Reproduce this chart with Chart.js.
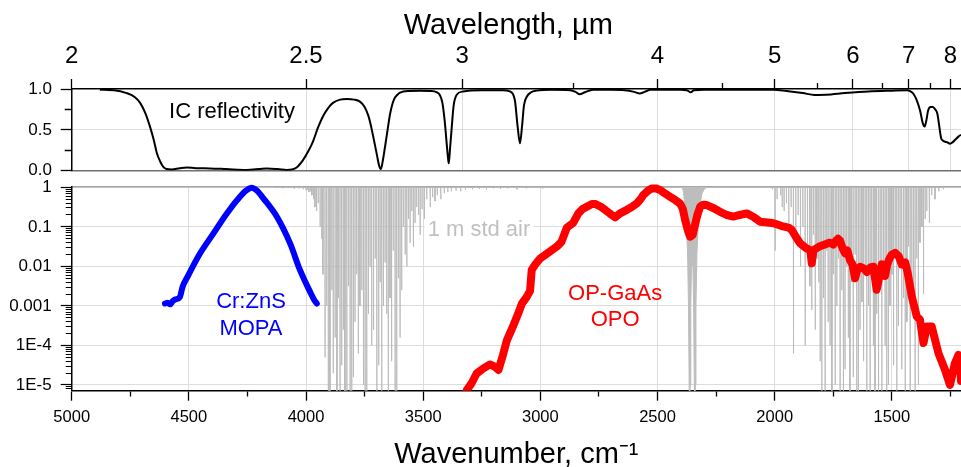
<!DOCTYPE html>
<html>
<head>
<meta charset="utf-8">
<script src="https://cdn.jsdelivr.net/npm/chart.js@4.4.1/dist/chart.umd.min.js"></script>
<style>
html,body{margin:0;padding:0;background:#fff;width:961px;height:467px;overflow:hidden;position:relative}
canvas{position:absolute;left:0}
#c1{top:0;width:961px;height:180px}
#c2{top:174px;width:961px;height:293px}
</style>
</head>
<body>
<canvas id="c1" width="961" height="180"></canvas>
<canvas id="c2" width="961" height="293"></canvas>
<script>
// ---------------- data ----------------
// IC reflectivity: [wavenumber cm-1, reflectivity]
const icReflectivity = [[4880,0.99],[4820,0.985],[4765,0.95],[4730,0.9],[4708,0.83],[4685,0.7],[4666,0.54],[4650,0.38],[4637,0.22],[4622,0.11],
[4610,0.05],[4595,0.02],[4573,0.015],[4540,0.03],[4509,0.04],[4470,0.03],[4410,0.028],[4340,0.02],[4253,0.01],[4200,0.02],
[4168,0.028],[4120,0.02],[4082,0.01],[4060,0.015],[4040,0.04],[4013,0.13],[3990,0.24],[3970,0.36],[3950,0.52],[3927,0.67],
[3905,0.77],[3885,0.83],[3855,0.87],[3826,0.877],[3795,0.87],[3770,0.845],[3750,0.78],[3735,0.68],[3727,0.6],[3712,0.4],
[3698,0.2],[3688,0.06],[3681,0.02],[3675,0.08],[3663,0.29],[3652,0.5],[3641,0.7],[3625,0.87],[3610,0.93],[3599,0.955],
[3560,0.975],[3514,0.978],[3470,0.975],[3442,0.96],[3428,0.92],[3418,0.83],[3408,0.6],[3400,0.34],[3394,0.15],[3391,0.09],
[3386,0.25],[3378,0.54],[3370,0.8],[3357,0.93],[3330,0.97],[3250,0.985],[3160,0.985],[3130,0.97],[3109,0.865],[3097,0.54],
[3087,0.335],[3078,0.55],[3070,0.8],[3058,0.905],[3040,0.96],[3016,0.98],[2950,0.99],[2873,0.985],[2850,0.965],[2832,0.935],
[2810,0.96],[2775,0.99],[2700,0.99],[2640,0.985],[2600,0.965],[2576,0.945],[2555,0.965],[2530,0.99],[2400,0.99],[2375,0.985],
[2358,0.96],[2345,0.985],[2300,0.99],[2007,0.99],[1950,0.975],[1880,0.95],[1830,0.928],[1780,0.93],[1700,0.95],[1600,0.97],
[1500,0.98],[1436,0.985],[1420,0.97],[1409,0.945],[1395,0.87],[1380,0.74],[1368,0.58],[1361,0.54],[1354,0.6],[1345,0.74],
[1335,0.78],[1325,0.78],[1315,0.75],[1306,0.70],[1298,0.55],[1290,0.4],[1283,0.37],[1273,0.355],[1265,0.35],[1252,0.33],
[1240,0.35],[1231,0.375],[1215,0.42],[1205,0.44]];

// Cr:ZnS MOPA spectrum: [wavenumber, log10 intensity]
const mopaSpectrum = [[4602,-2.94],[4591,-2.92],[4580,-2.96],[4569,-2.88],[4559,-2.84],[4538,-2.77],[4527,-2.52],[4502,-2.22],
[4452,-1.67],[4395,-1.165],[4338,-0.66],[4282,-0.24],[4255,-0.08],[4232,-0.01],[4210,-0.08],[4182,-0.28],[4125,-0.74],
[4068,-1.42],[4026,-2.09],[3983,-2.64],[3965,-2.85],[3954,-2.94]];

// OP-GaAs OPO spectrum: [wavenumber, log10 intensity]
const opoSpectrum = [[3330,-5.5],[3314,-5.13],[3293,-4.95],[3272,-4.71],[3243,-4.58],[3215,-4.48],[3193,-4.54],[3179,-4.62],
[3160,-4.25],[3143,-3.87],[3115,-3.49],[3095,-3.2],[3079,-2.94],[3058,-2.77],[3044,-2.62],[3037,-2.09],[3023,-1.96],[3001,-1.80],
[2965,-1.65],[2930,-1.50],[2910,-1.38],[2887,-1.02],[2860,-0.9],[2838,-0.66],[2820,-0.55],[2802,-0.49],[2780,-0.42],[2767,-0.42],
[2745,-0.48],[2724,-0.57],[2700,-0.68],[2681,-0.76],[2660,-0.66],[2631,-0.57],[2610,-0.50],[2589,-0.41],[2570,-0.28],[2560,-0.19],
[2540,-0.08],[2525,-0.03],[2505,-0.03],[2489,-0.07],[2470,-0.15],[2446,-0.24],[2425,-0.32],[2404,-0.41],[2392,-0.55],[2382,-0.83],
[2370,-1.1],[2361,-1.25],[2350,-1.2],[2340,-0.95],[2330,-0.7],[2318,-0.49],[2305,-0.44],[2290,-0.45],[2260,-0.53],[2233,-0.62],
[2205,-0.70],[2176,-0.74],[2150,-0.70],[2119,-0.66],[2090,-0.75],[2062,-0.87],[2030,-0.89],[2005,-0.91],[1970,-0.98],[1940,-1.02],
[1927,-1.08],[1910,-1.25],[1891,-1.42],[1870,-1.52],[1849,-1.59],[1845,-1.75],[1842,-1.92],[1838,-1.75],[1835,-1.59],[1810,-1.50],
[1792,-1.46],[1775,-1.42],[1764,-1.40],[1750,-1.45],[1740,-1.36],[1730,-1.30],[1721,-1.35],[1710,-1.55],[1700,-1.67],[1690,-1.60],
[1679,-1.84],[1668,-1.95],[1657,-2.30],[1648,-2.10],[1636,-2.01],[1620,-2.05],[1607,-2.14],[1590,-2.02],[1579,-2.01],[1565,-2.59],
[1558,-2.4],[1550,-2.1],[1543,-1.95],[1535,-2.1],[1529,-2.24],[1520,-1.95],[1510,-1.8],[1500,-1.70],[1486,-1.66],[1470,-1.75],
[1458,-1.95],[1443,-1.90],[1433,-2.15],[1415,-2.76],[1394,-3.26],[1380,-3.35],[1365,-3.94],[1351,-3.52],[1330,-3.52],[1301,-4.2],
[1273,-4.62],[1252,-5.0],[1231,-4.45],[1216,-4.24],[1208,-4.6],[1205,-4.9]];

// 1 m standard air: water absorption lines [centre wavenumber, log10 transmission at line centre]
const waterLines = [[4130,-0.02],[4100,-0.03],[4075,-0.02],[4050,-0.04],[4030,-0.03],[4012,-0.05],[4000,-0.08],[3995,-0.06],
[3988,-0.12],[3981,-0.1],[3975,-0.2],[3968,-0.3],[3962,-0.5],[3955,-0.6],[3948,-0.4],[3940,-1.0],[3933,-1.3],[3928,-2.2],
[3919,-4.3],[3912,-3.0],[3905,-7],[3898,-7],[3890,-2.6],[3884,-4.7],[3876,-3.8],[3868,-5.5],[3862,-2.8],[3855,-7],[3848,-4.5],
[3841,-3.6],[3834,-7],[3826,-5.2],[3819,-2.5],[3812,-7],[3805,-7],[3798,-4.8],[3791,-3.4],[3784,-2.2],[3777,-4.2],[3770,-3.0],
[3762,-2.6],[3755,-5.0],[3748,-7],[3741,-7],[3734,-3.2],[3727,-2.0],[3720,-4.0],[3712,-3.6],[3705,-1.8],[3698,-7],[3690,-4.5],
[3684,-2.4],[3677,-7],[3670,-3.0],[3663,-1.9],[3656,-3.2],[3649,-7],[3642,-2.8],[3635,-4.4],[3628,-1.6],[3620,-7],[3613,-7],
[3606,-2.3],[3599,-3.8],[3592,-2.6],[3585,-1.0],[3577,-1.7],[3570,-2.0],[3563,-0.8],[3556,-1.4],[3549,-0.6],[3542,-1.5],
[3535,-0.9],[3528,-0.5],[3520,-0.7],[3513,-1.2],[3505,-0.55],[3495,-0.8],[3485,-0.3],[3470,-0.5],[3460,-0.25],[3450,-0.35],
[3440,-0.2],[3425,-0.3],[3410,-0.15],[3395,-0.12],[3380,-0.1],[3360,-0.08],[3340,-0.1],[3320,-0.06],[3290,-0.05],[3260,-0.04],
[3230,-0.06],[3200,-0.03],[3170,-0.04],[3140,-0.03],[3100,-0.05],[3060,-0.03],[3020,-0.02],[2990,-0.03],
[2010,-0.05],[1998,-1.6],[1990,-0.3],[1975,-0.2],[1968,-0.5],[1960,-0.6],[1950,-0.4],[1940,-0.9],[1930,-0.5],[1920,-4.2],
[1910,-1.2],[1900,-0.7],[1890,-2.0],[1880,-1.0],[1870,-4.0],[1860,-1.5],[1850,-2.5],[1842,-3.1],[1835,-1.2],[1827,-3.6],
[1820,-1.8],[1812,-2.4],[1806,-4.4],[1799,-7],[1792,-2.8],[1785,-7],[1778,-1.6],[1772,-3.4],[1764,-4.0],[1756,-7],[1750,-2.2],
[1742,-5.0],[1735,-3.0],[1728,-1.8],[1721,-7],[1714,-2.6],[1707,-5.5],[1700,-4.6],[1693,-2.0],[1686,-3.8],[1679,-7],[1672,-2.4],
[1665,-4.8],[1657,-1.7],[1650,-7],[1643,-7],[1636,-3.6],[1628,-2.9],[1621,-4.4],[1614,-2.0],[1607,-7],[1600,-3.0],[1593,-5.2],
[1586,-2.2],[1579,-4.0],[1572,-7],[1565,-3.2],[1557,-7],[1550,-2.5],[1543,-5.5],[1536,-2.0],[1529,-4.0],[1522,-7],[1515,-5.0],
[1508,-3.0],[1500,-2.2],[1493,-4.5],[1486,-1.8],[1479,-7],[1472,-3.5],[1465,-2.0],[1458,-4.6],[1450,-2.8],[1443,-7],[1436,-3.4],
[1429,-1.5],[1422,-7],[1415,-2.4],[1408,-3.0],[1401,-7],[1394,-1.8],[1387,-5.0],[1380,-1.4],[1372,-1.0],[1365,-2.7],[1358,-0.8],
[1351,-0.6],[1340,-0.9],[1330,-0.2],[1316,-0.3],[1300,-0.1],[1280,-0.05]];

// 1 m standard air: CO2 band profile [wavenumber, log10 transmission]
const co2Band = [[2395,0],[2390,-0.1],[2386,-0.3],[2382,-0.6],[2377,-1.0],[2372,-1.6],[2368,-3],[2365,-5],[2363,-7],[2361,-5],
[2358,-3],[2355,-2],[2352,-1.5],[2349,-2],[2346,-3],[2343,-5],[2341,-7],[2339,-5],[2336,-3],[2332,-1.7],[2327,-1.0],[2322,-0.6],
[2316,-0.35],[2310,-0.15],[2300,-0.04],[2290,0]];

// tick values / labels
const wavelengthMajor = [2, 2.5, 3, 4, 5, 6, 7, 8];
const wavelengthMinor = [3.5, 4.5, 5.5, 6.5, 7.5];
const wavenumberMajor = [5000, 4500, 4000, 3500, 3000, 2500, 2000, 1500];
const wavenumberMinor = [4750, 4250, 3750, 3250, 2750, 2250, 1750, 1250];
const reflTickValues = [1, 0.75, 0.5, 0.25, 0];
const reflTickLabels = ['1.0', '', '0.5', '', '0.0'];
const logTickValues = [1, 0.1, 0.01, 0.001, 1e-4, 1e-5];
const logTickLabels = ['1', '0.1', '0.01', '0.001', '1E-4', '1E-5'];

// ---------------- chart setup ----------------
const FONT = "'Liberation Sans', Arial, Helvetica, sans-serif";
Chart.defaults.font.family = FONT;
Chart.defaults.color = '#000';

const WN_MIN = 1205, WN_MAX = 5000;
const LOG_MIN = 7.17e-6, LOG_MAX = 1.036;
const GRID = '#dcdcdc';
const NONE = 'rgba(0,0,0,0)';
const isMinor = c => !!(c.tick && c.tick.minor);
// minor tick marks drawn shorter using dash patterns
const dashInward = (tl, ml) => c => isMinor(c) ? [0, tl - ml, ml, 200] : [];
const dashOutward = (ml) => c => isMinor(c) ? [ml, 200] : [];
const noPad = s => { s.paddingTop = 0; s.paddingBottom = 0; s.paddingLeft = 0; s.paddingRight = 0; };

const textNotes = {
  id: 'textNotes',
  beforeDatasetsDraw(chart, args, opts) {
    const {ctx, scales} = chart;
    (opts.items || []).forEach(it => {
      if (!it.bg) return;
      const x = scales.x.getPixelForValue(it.wn), y = scales.y.getPixelForValue(it.v);
      ctx.save();
      ctx.font = it.size + 'px ' + FONT;
      const w = ctx.measureText(it.text).width;
      ctx.fillStyle = it.bg;
      ctx.fillRect(x - w / 2 - 3, y - it.size * 0.5, w + 6, it.size);
      ctx.restore();
    });
  },
  afterDatasetsDraw(chart, args, opts) {
    const {ctx, scales} = chart;
    (opts.items || []).forEach(it => {
      const x = scales.x.getPixelForValue(it.wn), y = scales.y.getPixelForValue(it.v);
      ctx.save();
      ctx.font = it.size + 'px ' + FONT;
      ctx.textAlign = 'center';
      ctx.textBaseline = 'middle';
      ctx.fillStyle = it.color;
      ctx.fillText(it.text, x, y);
      ctx.restore();
    });
  }
};

const lin = arr => arr.map(p => ({x: p[0], y: p[1]}));
const fromLog = arr => arr.map(p => ({x: p[0], y: Math.pow(10, p[1])}));
function spikes(lines) {
  const pts = [];
  lines.forEach(p => {
    pts.push({x: p[0] + 0.7, y: 1});
    pts.push({x: p[0], y: Math.pow(10, p[1])});
    pts.push({x: p[0] - 0.7, y: 1});
  });
  return pts;
}

// ---------- top panel: IC reflectivity ----------
new Chart(document.getElementById('c1'), {
  type: 'line',
  data: {
    datasets: [{
      label: 'IC reflectivity',
      data: lin(icReflectivity),
      borderColor: '#000', borderWidth: 2, pointRadius: 0,
      cubicInterpolationMode: 'monotone', fill: false
    }]
  },
  options: {
    responsive: false, animation: false, devicePixelRatio: 1,
    layout: {padding: 0},
    plugins: {
      legend: {display: false}, tooltip: {enabled: false},
      textNotes: {items: [{text: 'IC reflectivity', wn: 4316, v: 0.72, size: 22, color: '#000'}]}
    },
    scales: {
      x: {
        type: 'linear', reverse: true, min: WN_MIN, max: WN_MAX, position: 'bottom',
        ticks: {display: false}, grid: {display: false, drawTicks: false},
        border: {color: '#707070', width: 1.5},
        afterFit: s => { s.height = 9.3; noPad(s); }
      },
      x2: {
        type: 'linear', axis: 'x', reverse: true, min: WN_MIN, max: WN_MAX, position: 'top',
        afterBuildTicks: s => {
          s.ticks = wavelengthMajor.map(l => ({value: 1e4 / l}))
            .concat(wavelengthMinor.map(l => ({value: 1e4 / l, minor: true})))
            .sort((a, b) => b.value - a.value);
        },
        ticks: {
          autoSkip: false, maxRotation: 0, minRotation: 0, padding: 8,
          font: {size: 24},
          callback: v => {
            const l = wavelengthMajor.find(w => Math.abs(1e4 / w - v) < 1e-6);
            return l === undefined ? '' : String(l);
          }
        },
        grid: {
          color: c => isMinor(c) ? NONE : GRID, tickColor: '#000', tickLength: 10, lineWidth: 1,
          tickWidth: 1.3, tickBorderDash: dashInward(10, 6)
        },
        border: {color: '#000', width: 1.5},
        title: {display: true, text: 'Wavelength, µm\u00a0\u00a0', font: {size: 29, lineHeight: 1}, padding: {top: 11, bottom: 0}},
        afterFit: s => { s.height = 89; noPad(s); }
      },
      y: {
        type: 'linear', min: 0, max: 1, position: 'left',
        afterBuildTicks: s => {
          s.ticks = reflTickValues.map((v, i) => ({value: v, minor: reflTickLabels[i] === ''})).reverse();
        },
        ticks: {
          autoSkip: false, padding: 8.7, font: {size: 17},
          callback: v => {
            const i = reflTickValues.findIndex(t => Math.abs(t - v) < 1e-9);
            return i < 0 ? '' : reflTickLabels[i];
          }
        },
        grid: {
          color: c => (c.tick && Math.abs(c.tick.value - 0.5) < 1e-9) ? GRID : NONE,
          tickColor: '#000', tickLength: 11, tickWidth: 1.3, tickBorderDash: dashInward(11, 7)
        },
        border: {color: '#000', width: 1.5},
        afterFit: s => { s.width = 71.7; noPad(s); }
      }
    }
  },
  plugins: [textNotes]
});

// ---------- bottom panel: spectra (log scale) ----------
function logTicks() {
  const t = logTickValues.map(v => ({value: v}));
  for (let e = -6; e < 0; e++) {
    for (let k = 2; k <= 9; k++) {
      const v = k * Math.pow(10, e);
      if (v >= LOG_MIN && v <= LOG_MAX) t.push({value: v, minor: true});
    }
  }
  return t.sort((a, b) => a.value - b.value);
}

new Chart(document.getElementById('c2'), {
  type: 'line',
  data: {
    datasets: [
      {label: 'OP-GaAs OPO', data: fromLog(opoSpectrum), borderColor: '#ff0000', borderWidth: 8,
       pointRadius: 0, tension: 0, borderJoinStyle: 'round', borderCapStyle: 'round', fill: false, order: 0,
       clip: {left: 0, right: 0, top: 5, bottom: 0}},
      {label: 'Cr:ZnS MOPA', data: fromLog(mopaSpectrum), borderColor: '#0000ff', borderWidth: 6,
       pointRadius: 0, cubicInterpolationMode: 'monotone', borderJoinStyle: 'round', borderCapStyle: 'round',
       fill: false, order: 1, clip: {left: 0, right: 0, top: 5, bottom: 0}},
      {label: '1 m std air CO2', data: fromLog(co2Band), borderColor: '#bdbdbd', backgroundColor: '#bdbdbd',
       borderWidth: 1, pointRadius: 0, tension: 0, fill: 'end', order: 2, clip: 0},
      {label: '1 m std air H2O', data: spikes(waterLines), borderColor: 'rgba(185,185,185,0.95)', borderWidth: 0.9,
       pointRadius: 0, tension: 0, fill: false, order: 3, clip: 0}
    ]
  },
  options: {
    responsive: false, animation: false, devicePixelRatio: 1,
    layout: {padding: {top: 12.7, left: 0, right: 0, bottom: 0}},
    plugins: {
      legend: {display: false}, tooltip: {enabled: false},
      textNotes: {items: [
        {text: '1 m std air', wn: 3262, v: 0.085, size: 22, color: '#c0c0c0', bg: '#fff'},
        {text: 'Cr:ZnS', wn: 4235, v: 1.25e-3, size: 22, color: '#0000ff'},
        {text: 'MOPA', wn: 4235, v: 2.6e-4, size: 22, color: '#0000ff'},
        {text: 'OP-GaAs', wn: 2681, v: 2.0e-3, size: 22, color: '#ff0000'},
        {text: 'OPO', wn: 2681, v: 4.3e-4, size: 22, color: '#ff0000'}
      ]}
    },
    scales: {
      x: {
        type: 'linear', reverse: true, min: WN_MIN, max: WN_MAX, position: 'bottom',
        afterBuildTicks: s => {
          s.ticks = wavenumberMajor.map(v => ({value: v}))
            .concat(wavenumberMinor.map(v => ({value: v, minor: true})))
            .sort((a, b) => b.value - a.value);
        },
        ticks: {
          autoSkip: false, maxRotation: 0, minRotation: 0, padding: 7, font: {size: 16.5},
          callback: v => wavenumberMajor.includes(v) ? String(v) : ''
        },
        grid: {
          color: c => isMinor(c) ? NONE : GRID, tickColor: '#000', tickLength: 10, tickWidth: 1.3,
          tickBorderDash: dashOutward(5)
        },
        border: {color: '#000', width: 1.5},
        title: {display: true, text: 'Wavenumber, cm\u207B\u00B9', font: {size: 29, lineHeight: 1}, padding: {top: 0, bottom: -2}},
        afterFit: s => { s.height = 76.3; noPad(s); }
      },
      xTop: {
        type: 'linear', axis: 'x', reverse: true, min: WN_MIN, max: WN_MAX, position: 'top',
        ticks: {display: false}, grid: {display: false, drawTicks: false},
        border: {color: '#a8a8a8', width: 1.5},
        afterFit: s => { s.height = 0; noPad(s); }
      },
      y: {
        type: 'logarithmic', min: LOG_MIN, max: LOG_MAX, position: 'left',
        afterBuildTicks: s => { s.ticks = logTicks(); },
        ticks: {
          autoSkip: false, padding: 9, font: {size: 17},
          callback: v => {
            const i = logTickValues.findIndex(t => Math.abs(t - v) / t < 1e-6);
            return i < 0 ? '' : logTickLabels[i];
          }
        },
        grid: {
          color: c => isMinor(c) ? NONE : GRID, tickColor: '#000', tickLength: 11, tickWidth: 1.2,
          tickBorderDash: dashInward(11, 6)
        },
        border: {color: '#000', width: 1.5},
        afterFit: s => { s.width = 71.7; noPad(s); }
      }
    }
  },
  plugins: [textNotes]
});
</script>
</body>
</html>
